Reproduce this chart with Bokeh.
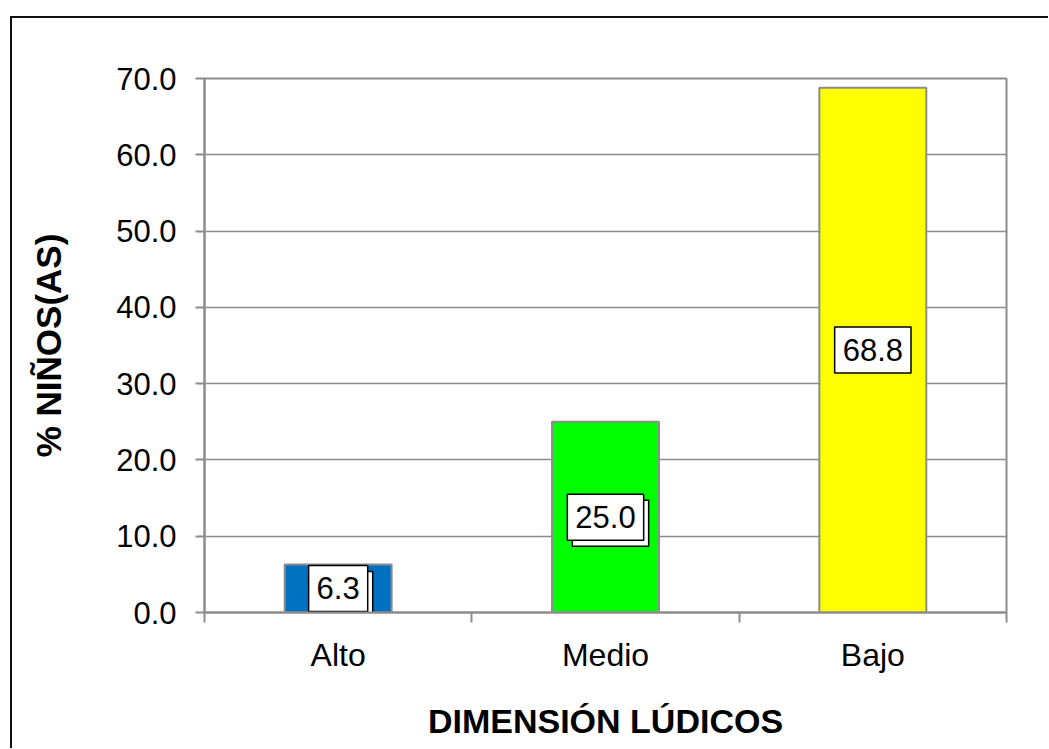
from bokeh.plotting import figure
from bokeh.models import Range1d, FixedTicker, PrintfTickFormatter, ColumnDataSource
from bokeh.core.properties import value
from bokeh.embed import file_html
from bokeh.resources import INLINE

categories = ["Alto", "Medio", "Bajo"]
values = [6.3, 25.0, 68.8]
colors = ["#0070C0", "#00FF00", "#FFFF00"]
y_ticks = [0, 10, 20, 30, 40, 50, 60, 70]

FONT = "Liberation Sans"
GRAY = "#8c8c8c"

xs = [i + 0.5 for i in range(len(categories))]
src = ColumnDataSource(dict(
    x=xs, top=values, color=colors,
    mid=[v / 2 for v in values],
    label=[f"{v:.1f}" for v in values],
))
shadow_src = ColumnDataSource(dict(
    x=xs[:2], mid=[v / 2 for v in values[:2]],
    label=[f"{v:.1f}" for v in values[:2]],
))

p = figure(width=1036, height=730, output_backend="svg", toolbar_location=None,
           x_range=Range1d(0, len(categories)), y_range=Range1d(0, 70),
           frame_width=802, frame_height=534,
           min_border_left=192, min_border_right=42, min_border_top=60, min_border_bottom=136)

p.background_fill_color = "white"
p.border_fill_color = "white"
p.outline_line_color = GRAY
p.outline_line_width = 2
p.styles = {"border-left": "2px solid #111111", "border-top": "2px solid #111111",
            "margin-left": "10px", "margin-top": "16px"}

p.vbar(x="x", top="top", bottom=0, width=0.4, source=src, fill_color="color",
       line_color=GRAY, line_width=2)

PAD = dict(left=8, right=8, top=12, bottom=12)
# shadow boxes
p.text(x="x", y="mid", text="label", source=shadow_src, x_offset=5, y_offset=6,
       text_align="center", text_baseline="middle", text_font_size="31px",
       text_font=value(FONT), text_color="white", text_alpha=0.0,
       background_fill_color="white", border_line_color="black", border_line_width=1.5,
       padding=PAD)
p.text(x="x", y="mid", text="label", source=src,
       text_align="center", text_baseline="middle", text_font_size="31px",
       text_font=value(FONT), text_color="black",
       background_fill_color="white", border_line_color="black", border_line_width=1.5,
       padding=PAD)

# axes
p.xaxis.ticker = FixedTicker(ticks=xs, minor_ticks=list(range(len(categories) + 1)))
p.xaxis.major_label_overrides = {x: c for x, c in zip(xs, categories)}
p.xaxis.major_tick_out = 0
p.xaxis.major_tick_in = 0
p.xaxis.minor_tick_out = 10
p.xaxis.minor_tick_in = 0
p.xaxis.minor_tick_line_color = GRAY
p.xaxis.minor_tick_line_width = 2
p.xaxis.axis_line_color = GRAY
p.xaxis.axis_line_width = 2
p.xaxis.major_label_text_font = FONT
p.xaxis.major_label_text_font_size = "32px"
p.xaxis.major_label_text_color = "black"
p.xaxis.major_label_standoff = 14
p.xaxis.axis_label = "DIMENSIÓN LÚDICOS"
p.xaxis.axis_label_text_font = FONT
p.xaxis.axis_label_text_font_style = "bold"
p.xaxis.axis_label_text_font_size = "34px"
p.xaxis.axis_label_text_color = "black"
p.xaxis.axis_label_standoff = 26

p.yaxis.ticker = FixedTicker(ticks=y_ticks, minor_ticks=[])
p.yaxis.formatter = PrintfTickFormatter(format="%.1f")
p.yaxis.major_tick_out = 9
p.yaxis.major_tick_in = 0
p.yaxis.major_tick_line_color = GRAY
p.yaxis.major_tick_line_width = 2
p.yaxis.axis_line_color = GRAY
p.yaxis.axis_line_width = 2
p.yaxis.major_label_text_font = FONT
p.yaxis.major_label_text_font_size = "31px"
p.yaxis.major_label_text_color = "black"
p.yaxis.major_label_standoff = 19
p.yaxis.axis_label = "% NIÑOS(AS)"
p.yaxis.axis_label_text_font = FONT
p.yaxis.axis_label_text_font_style = "bold"
p.yaxis.axis_label_text_font_size = "35px"
p.yaxis.axis_label_text_color = "black"
p.yaxis.axis_label_standoff = 45

p.xgrid.grid_line_color = None
p.ygrid.ticker = FixedTicker(ticks=y_ticks)
p.ygrid.grid_line_color = GRAY
p.ygrid.grid_line_width = 1.5

open("out.html", "w").write(file_html(p, INLINE))
